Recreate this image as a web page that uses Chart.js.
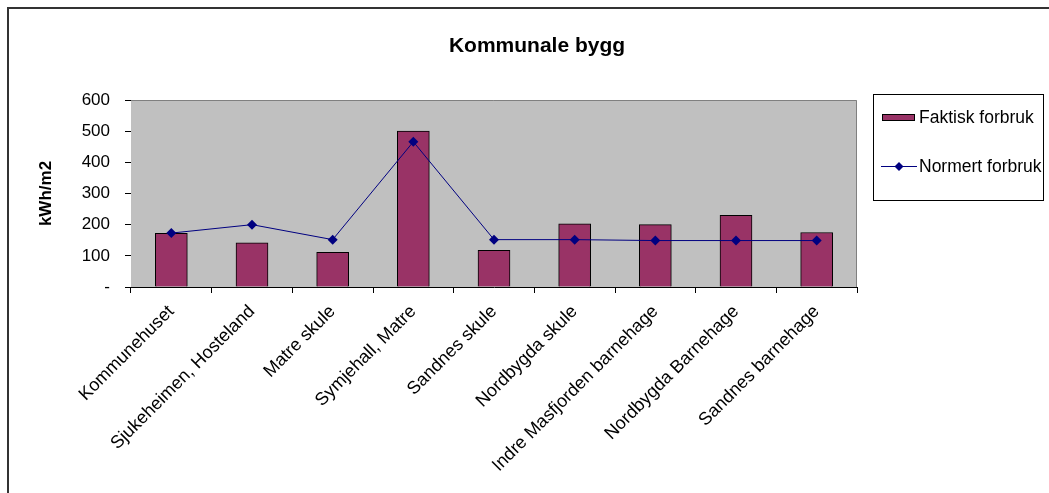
<!DOCTYPE html>
<html>
<head>
<meta charset="utf-8">
<script src="https://cdn.jsdelivr.net/npm/chart.js@4/dist/chart.umd.min.js"></script>
<style>
  html, body { margin: 0; padding: 0; background: #fff; }
  #wrap { width: 1049px; height: 493px; }
</style>
</head>
<body>
<div id="wrap"><canvas id="chart" width="1049" height="493"></canvas></div>
<script>
const categories = [
  'Kommunehuset', 'Sjukeheimen, Hosteland', 'Matre skule', 'Symjehall, Matre',
  'Sandnes skule', 'Nordbygda skule', 'Indre Masfjorden barnehage',
  'Nordbygda Barnehage', 'Sandnes barnehage'
];
const faktisk = [172, 142, 111, 500, 118, 203, 200, 230, 175];
const normert = [173, 200, 152, 466, 152, 152, 149, 149, 149];
const yTicks = [0, 100, 200, 300, 400, 500, 600];

const FONT = "'Liberation Sans', Arial, sans-serif";
const BAR = '#993366';
const NAVY = '#000080';

// grey plot area + title + outer frame + legend box
const frame = {
  id: 'frame',
  beforeDatasetsDraw(chart) {
    const { ctx, chartArea: a } = chart;
    ctx.save();
    ctx.fillStyle = '#c0c0c0';
    ctx.fillRect(a.left, a.top, a.right - a.left, a.bottom - a.top);
    ctx.strokeStyle = '#808080';
    ctx.lineWidth = 1;
    ctx.beginPath();
    ctx.moveTo(a.left, a.top + 0.5);
    ctx.lineTo(a.right - 0.5, a.top + 0.5);
    ctx.lineTo(a.right - 0.5, a.bottom);
    ctx.stroke();
    ctx.restore();
  },
  afterDraw(chart) {
    const ctx = chart.ctx;
    ctx.save();
    // outer frame
    ctx.strokeStyle = '#333';
    ctx.lineWidth = 2;
    ctx.strokeRect(8, 8, 1100, 600);

    // title
    ctx.fillStyle = '#000';
    ctx.font = 'bold 21px ' + FONT;
    ctx.textAlign = 'center';
    ctx.textBaseline = 'middle';
    ctx.fillText('Kommunale bygg', 537, 46);

    // legend
    ctx.fillStyle = '#fff';
    ctx.fillRect(873.5, 94.5, 170, 106);
    ctx.strokeStyle = '#000';
    ctx.lineWidth = 1;
    ctx.strokeRect(873.5, 94.5, 170, 106);

    ctx.fillStyle = BAR;
    ctx.fillRect(882, 114, 33, 7);
    ctx.strokeRect(882.5, 114.5, 32, 6);

    ctx.strokeStyle = NAVY;
    ctx.beginPath();
    ctx.moveTo(881, 166.5);
    ctx.lineTo(917, 166.5);
    ctx.stroke();
    ctx.fillStyle = NAVY;
    ctx.beginPath();
    ctx.moveTo(899, 162);
    ctx.lineTo(903.5, 166.5);
    ctx.lineTo(899, 171);
    ctx.lineTo(894.5, 166.5);
    ctx.closePath();
    ctx.fill();

    ctx.fillStyle = '#000';
    ctx.font = '17.5px ' + FONT;
    ctx.textAlign = 'left';
    ctx.fillText('Faktisk forbruk', 919, 118);
    ctx.fillText('Normert forbruk', 919, 167);
    ctx.restore();
  }
};

new Chart(document.getElementById('chart'), {
  type: 'bar',
  data: {
    labels: categories,
    datasets: [
      {
        type: 'line', label: 'Normert forbruk', data: normert,
        borderColor: NAVY, backgroundColor: NAVY, borderWidth: 1,
        pointStyle: 'rectRot', pointRadius: 5, pointBorderWidth: 0,
        pointBackgroundColor: NAVY, tension: 0, order: 1,
      },
      {
        type: 'bar', label: 'Faktisk forbruk', data: faktisk,
        backgroundColor: BAR, borderColor: '#000', borderWidth: 1,
        barThickness: 32, order: 2,
      },
    ],
  },
  options: {
    responsive: false,
    animation: false,
    layout: { padding: { left: 30, right: 192, top: 100, bottom: 0 } },
    plugins: {
      legend: { display: false },
      title: { display: false },
      tooltip: { enabled: false },
    },
    scales: {
      x: {
        afterFit(s) { s.height = 206; },
        border: { color: '#000', width: 1 },
        grid: { offset: true, drawOnChartArea: false, drawTicks: true, tickLength: 6, color: '#000' },
        ticks: {
          minRotation: 45, maxRotation: 45, autoSkip: false, padding: 8,
          color: '#000', font: { family: FONT, size: 18 },
        },
      },
      y: {
        min: 0, max: 600,
        afterFit(s) { s.width = 101; },
        afterBuildTicks(s) { s.ticks = yTicks.map(v => ({ value: v })); },
        border: { color: '#000', width: 1 },
        grid: { drawOnChartArea: false, drawTicks: true, tickLength: 6, color: '#000' },
        ticks: {
          padding: 15, color: '#000', font: { family: FONT, size: 17 },
          callback: v => (v === 0 ? '-' : v),
        },
        title: {
          display: true, text: 'kWh/m2', color: '#000',
          font: { family: FONT, size: 17, weight: 'bold' },
          padding: { top: 6, bottom: 0 },
        },
      },
    },
  },
  plugins: [frame],
});
</script>
</body>
</html>
